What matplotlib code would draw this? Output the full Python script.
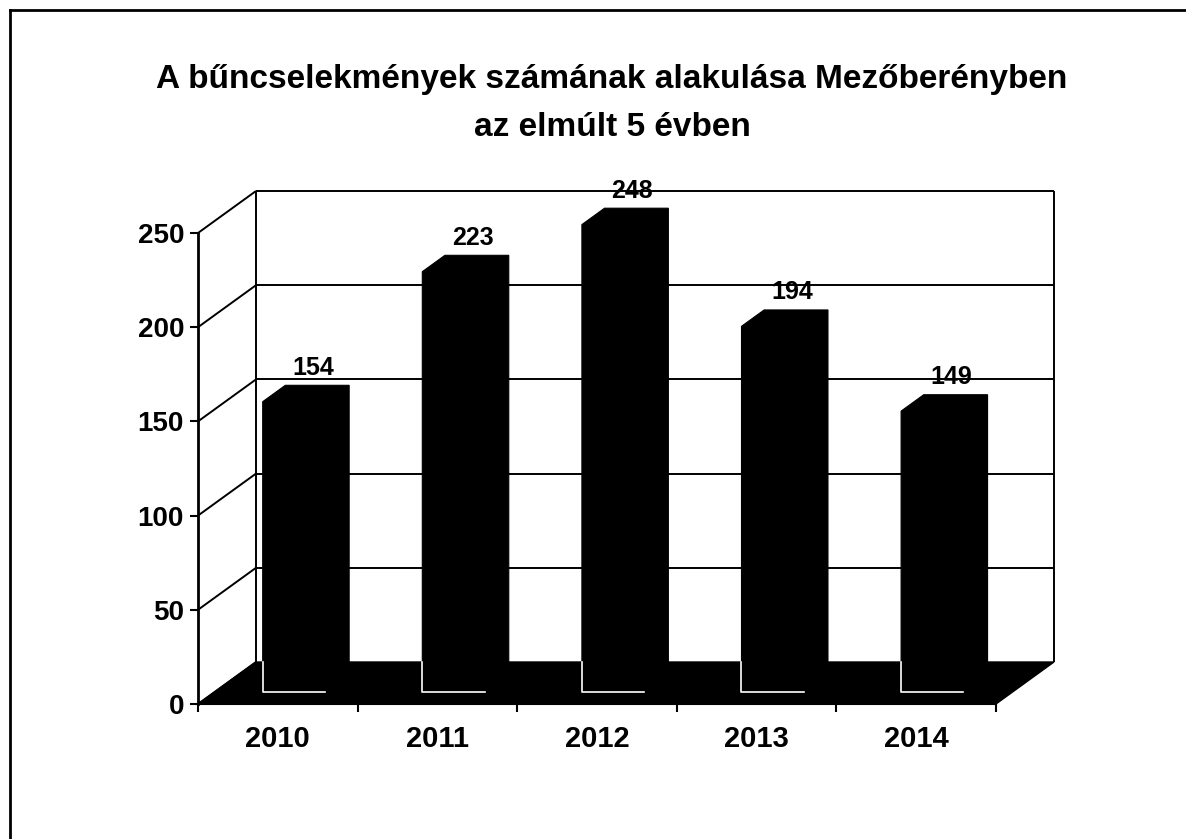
import matplotlib
matplotlib.use("Agg")
import matplotlib.pyplot as plt
from matplotlib.patches import Polygon

years = ["2010", "2011", "2012", "2013", "2014"]
values = [154, 223, 248, 194, 149]
yticks = [0, 50, 100, 150, 200, 250]
title_line1 = "A bűncselekmények számának alakulása Mezőberényben"
title_line2 = "az elmúlt 5 évben"

FONT = "Liberation Sans"
W, H = 1186, 839
fig = plt.figure(figsize=(W / 100, H / 100), dpi=100)
fig.patch.set_facecolor("white")

# front plane of the 3D box in pixel positions
x0, x1 = 198, 996
y0, y1 = 704, 233
ax = fig.add_axes([x0 / W, 1 - y0 / H, (x1 - x0) / W, (y0 - y1) / H])
n = len(years)
ymax = 250
ax.set_xlim(0, n)
ax.set_ylim(0, ymax)

# depth offset (oblique projection) in data units
DX = 58 / ((x1 - x0) / n)
DY = 42 / ((y0 - y1) / ymax)


def P(x, v, d):
    return (x + d * DX, v + d * DY)


lk = dict(color="black", lw=1.4, clip_on=False, solid_capstyle="butt")
# back wall
for v in yticks[1:]:
    xs, ys = zip(P(0, v, 1), P(n, v, 1))
    ax.plot(xs, ys, **lk)
for xx in (0, n):
    xs, ys = zip(P(xx, 0, 1), P(xx, ymax, 1))
    ax.plot(xs, ys, **lk)
# left wall diagonals
for v in yticks:
    xs, ys = zip(P(0, v, 0), P(0, v, 1))
    ax.plot(xs, ys, **lk)

# floor
floor = Polygon([P(0, 0, 0), P(n, 0, 0), P(n, 0, 1), P(0, 0, 1)],
                closed=True, facecolor="black", edgecolor="black", lw=1,
                clip_on=False)
ax.add_patch(floor)

# bars (single black silhouette each)
w = 0.2
d0, d1 = 0.29, 0.68
for i, v in enumerate(values):
    c = i + 0.5
    shape = [P(c - w, 0, d0), P(c + w, 0, d0), P(c + w, 0, d1),
             P(c + w, v, d1), P(c - w, v, d1), P(c - w, v, d0)]
    ax.add_patch(Polygon(shape, closed=True, facecolor="black",
                         edgecolor="black", lw=0.8, clip_on=False))
    # white outline of the front face where it lies over the dark floor
    xs, ys = zip(P(c - w, min(v, DY * (1 - d0)), d0), P(c - w, 0, d0),
                 P(c + w - 0.01, 0, d0))
    ax.plot(xs, ys, color="white", lw=1.2, clip_on=False)
    # value label
    ax.annotate(str(v), xy=P(c, v, 0.5), xytext=(4.5, 13), textcoords="offset points",
                ha="center", va="baseline", fontsize=18, fontweight="bold",
                family=FONT, annotation_clip=False)

# axes, ticks
for s in ("top", "right"):
    ax.spines[s].set_visible(False)
ax.spines["left"].set_linewidth(2)
ax.spines["bottom"].set_linewidth(1.5)
ax.set_yticks(yticks)
ax.set_yticklabels([str(t) for t in yticks])
ax.set_xticks(range(n + 1))
ax.set_xticklabels([""] * (n + 1))
ax.set_xticks([i + 0.5 for i in range(n)], minor=True)
ax.set_xticklabels(years, minor=True)
ax.tick_params(axis="y", direction="out", length=6, width=1.5, pad=4,
               labelsize=20)
ax.tick_params(axis="x", which="major", direction="out", length=6, width=1.5)
ax.tick_params(axis="x", which="minor", length=0, pad=15, labelsize=21)
for lab in ax.get_yticklabels() + ax.get_xticklabels(minor=True):
    lab.set_fontweight("bold")
    lab.set_family(FONT)
ax.set_facecolor("none")

# title
fig.text(612 / W, 1 - 88 / H, title_line1, ha="center", va="baseline",
         fontsize=24, fontweight="bold", family=FONT)
fig.text(612 / W, 1 - 136 / H, title_line2, ha="center", va="baseline",
         fontsize=24, fontweight="bold", family=FONT)

# outer frame (top and left)
fig.add_artist(plt.Line2D([10 / W, 1], [1 - 10 / H, 1 - 10 / H], color="black",
                          lw=2, transform=fig.transFigure))
fig.add_artist(plt.Line2D([10 / W, 10 / W], [1 - 10 / H, 0], color="black",
                          lw=2, transform=fig.transFigure))

fig.savefig("out.png", dpi=100)
